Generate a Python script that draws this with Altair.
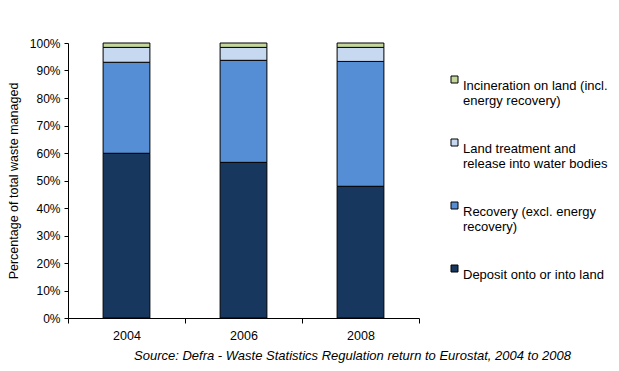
import altair as alt
import pandas as pd

years = ["2004", "2006", "2008"]
categories = [
    "Deposit onto or into land",
    "Recovery (excl. energy recovery)",
    "Land treatment and release into water bodies",
    "Incineration on land (incl. energy recovery)",
]
label_lines = [
    ["Deposit onto or into land", ""],
    ["Recovery (excl. energy", "recovery)"],
    ["Land treatment  and", "release into water bodies"],
    ["Incineration  on land (incl.", "energy recovery)"],
]
deposit = [59.9, 56.6, 47.9]
recovery = [33.1, 37.1, 45.4]
land_treatment = [5.4, 4.7, 5.1]
incineration = [1.6, 1.6, 1.6]
colors = ["#17375E", "#558ED5", "#C6D9F1", "#C3D69B"]

series = [deposit, recovery, land_treatment, incineration]
rows = []
for ci, (cat, vals) in enumerate(zip(categories, series)):
    for y, v in zip(years, vals):
        rows.append({"Year": y, "Category": cat, "Value": v / 100.0, "Order": ci})
df = pd.DataFrame(rows)

FONT = "Liberation Sans"

label_expr = ""
for cat, lines in zip(categories, label_lines):
    arr = "[" + ", ".join("'" + l + "'" for l in lines) + "]"
    label_expr += f"datum.label == '{cat}' ? {arr} : "
label_expr += "datum.label"

chart = alt.Chart(df).mark_bar(
    stroke="black", strokeWidth=1, width={"band": 0.4}
).encode(
    x=alt.X(
        "Year:N",
        title=None,
        scale=alt.Scale(paddingInner=0, paddingOuter=0),
        axis=alt.Axis(
            labelAngle=0, tickBand="extent", tickSize=5, labelPadding=6,
            labelFont=FONT, labelFontSize=12.5, labelColor="black",
            domainColor="black", tickColor="black",
        ),
    ),
    y=alt.Y(
        "Value:Q",
        stack="zero",
        title="Percentage of total waste managed",
        scale=alt.Scale(domain=[0, 1], nice=False),
        axis=alt.Axis(
            format=".0%", values=[i / 10 for i in range(11)], grid=False,
            tickSize=4, labelPadding=4, labelFont=FONT, labelFontSize=12,
            labelColor="black", titleFont=FONT, titleFontSize=12.5,
            titleFontWeight="normal", titleColor="black", titlePadding=9,
            domainColor="black", tickColor="black",
        ),
    ),
    color=alt.Color(
        "Category:N",
        scale=alt.Scale(domain=categories[::-1], range=colors[::-1]),
        legend=alt.Legend(
            title=None, orient="none", legendX=380, legendY=30,
            padding=0, symbolType="square", symbolSize=49,
            symbolStrokeColor="black", symbolStrokeWidth=1,
            labelFont=FONT, labelFontSize=13, labelColor="black",
            labelExpr=label_expr, labelBaseline="top", labelLimit=300,
            rowPadding=28, labelOffset=2,
        ),
    ),
    order=alt.Order("Order:Q", sort="ascending"),
).properties(
    width=351,
    height=275,
    padding={"left": 60, "top": 35, "right": 192, "bottom": 45},
    autosize=alt.AutoSizeParams(type="none"),
    title=alt.TitleParams(
        text="Source: Defra - Waste Statistics Regulation return  to Eurostat,  2004 to 2008",
        orient="bottom", anchor="middle", frame="group", dx=109, offset=8,
        font=FONT, fontSize=13, fontStyle="italic", fontWeight="normal", color="black",
    ),
).configure_view(stroke=None)

chart.save("out.html", embed_options={"renderer": "svg", "actions": False})
